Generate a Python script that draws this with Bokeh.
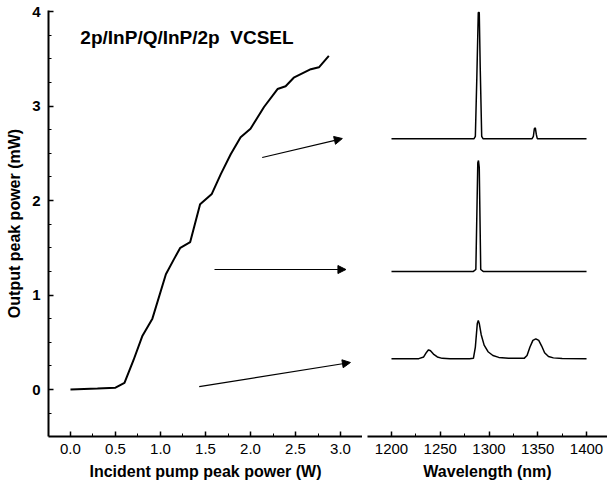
from bokeh.plotting import figure
from bokeh.models import (ColumnDataSource, Arrow, NormalHead, SingleIntervalTicker,
                          Range1d, Label, PrintfTickFormatter)
from bokeh.layouts import row
from bokeh.embed import file_html
from bokeh.resources import INLINE

# ---- L-I curve (incident pump peak power W vs output peak power mW)
pump_w = [0.0, 0.3, 0.5, 0.6, 0.70, 0.80, 0.91, 1.06, 1.15, 1.22, 1.33, 1.44, 1.57,
          1.67, 1.78, 1.89, 2.0, 2.15, 2.30, 2.39, 2.48, 2.67, 2.76, 2.87]
out_mw = [0.0, 0.01, 0.02, 0.07, 0.31, 0.57, 0.75, 1.22, 1.38, 1.50, 1.56, 1.96, 2.07,
          2.28, 2.49, 2.67, 2.76, 2.99, 3.18, 3.21, 3.30, 3.39, 3.41, 3.53]

# ---- spectra (wavelength nm, offset intensity on same vertical scale)
wl_top = [1200, 1284.5, 1286, 1287.5, 1289, 1290, 1291, 1292.5, 1294, 1344, 1345.5,
          1346.5, 1347.5, 1348.5, 1349.5, 1400]
sp_top = [2.653, 2.653, 2.68, 3.3, 3.99, 3.99, 3.4, 2.68, 2.653, 2.653, 2.68,
          2.76, 2.77, 2.70, 2.655, 2.653]

wl_mid = [1200, 1284, 1286.5, 1288.5, 1289.2, 1290, 1291.5, 1294, 1400]
sp_mid = [1.25, 1.25, 1.27, 2.40, 2.423, 2.35, 1.27, 1.25, 1.25]

wl_bot = [1200, 1228, 1233, 1236, 1238, 1240, 1243, 1247, 1252, 1260, 1280, 1284, 1286,
          1288, 1289, 1290, 1292, 1295, 1299, 1304, 1310, 1320, 1336, 1339, 1342, 1345,
          1348, 1351, 1354, 1357, 1361, 1366, 1375, 1400]
sp_bot = [0.325, 0.327, 0.345, 0.395, 0.42, 0.41, 0.375, 0.345, 0.33, 0.325, 0.325, 0.33,
          0.45, 0.70, 0.73, 0.70, 0.58, 0.47, 0.40, 0.36, 0.34, 0.33, 0.33, 0.36, 0.45,
          0.52, 0.537, 0.52, 0.46, 0.39, 0.35, 0.335, 0.328, 0.325]

# ---- arrows (from L-I curve region towards the spectra)
arrow_x0 = [2.13, 1.60, 1.43]
arrow_y0 = [2.455, 1.27, 0.03]
arrow_x1 = [3.02, 3.06, 3.11]
arrow_y1 = [2.656, 1.27, 0.286]

title_text = "2p/InP/Q/InP/2p\u00a0\u00a0VCSEL"

FONT = "Liberation Sans"
Y0, Y1 = -0.497, 4.011
H = 490
TOP, BOT = 10, 54


def style_axis(ax, bold_ticks=False):
    ax.axis_line_width = 2
    ax.axis_line_color = "black"
    ax.major_tick_in = 5
    ax.major_tick_out = 0
    ax.minor_tick_in = 3
    ax.minor_tick_out = 0
    ax.major_tick_line_width = 1.5
    ax.major_label_text_font = FONT
    ax.major_label_text_font_size = "15px"
    ax.major_label_text_color = "black"
    if bold_ticks:
        ax.major_label_text_font_style = "bold"
    ax.major_label_standoff = 7
    ax.axis_label_text_font = FONT
    ax.axis_label_text_font_size = "16px"
    ax.axis_label_text_font_style = "bold"
    ax.axis_label_text_color = "black"


p1 = figure(width=362, height=H, output_backend="svg", toolbar_location=None,
            x_range=Range1d(-0.244, 3.244), y_range=Range1d(Y0, Y1),
            min_border_left=48, min_border_right=0, min_border_top=TOP,
            min_border_bottom=BOT)
p1.outline_line_color = None
p1.grid.visible = False

p1.xaxis.ticker = SingleIntervalTicker(interval=0.5, num_minor_ticks=2)
p1.yaxis.ticker = SingleIntervalTicker(interval=1, num_minor_ticks=4)
p1.xaxis.axis_label = "Incident pump peak power (W)"
p1.yaxis.axis_label = "Output peak power (mW)"
style_axis(p1.xaxis[0])
style_axis(p1.yaxis[0], bold_ticks=True)
p1.yaxis.major_label_standoff = 8
p1.xaxis.axis_label_standoff = 6
p1.yaxis.axis_label_standoff = 6
p1.xaxis.formatter = PrintfTickFormatter(format="%.1f")

p1.line(pump_w, out_mw, line_color="black", line_width=2)

asrc = ColumnDataSource(dict(x0=arrow_x0, y0=arrow_y0, x1=arrow_x1, y1=arrow_y1))
p1.add_layout(Arrow(x_start="x0", y_start="y0", x_end="x1", y_end="y1", source=asrc,
                    line_color="black", line_width=1.2,
                    end=NormalHead(size=8, fill_color="black", line_color="black",
                                   line_width=1)))

p1.add_layout(Label(x=0.11, y=3.725, text=title_text, text_font=FONT,
                    text_font_size="19px", text_font_style="bold", text_color="black",
                    text_baseline="alphabetic"))

p2 = figure(width=245, height=H, output_backend="svg", toolbar_location=None,
            x_range=Range1d(1175.4, 1421.5), y_range=Range1d(Y0, Y1),
            y_axis_location=None,
            min_border_left=5, min_border_right=0, min_border_top=TOP,
            min_border_bottom=BOT)
p2.outline_line_color = None
p2.grid.visible = False
p2.xaxis.ticker = SingleIntervalTicker(interval=50, num_minor_ticks=2)
p2.xaxis.axis_label = "Wavelength (nm)"
style_axis(p2.xaxis[0])
p2.xaxis.axis_label_standoff = 6

p2.line(wl_top, sp_top, line_color="black", line_width=1.5)
p2.line(wl_mid, sp_mid, line_color="black", line_width=1.5)
p2.line(wl_bot, sp_bot, line_color="black", line_width=1.5)

layout = row(p1, p2, spacing=0)
open("out.html", "w").write(file_html(layout, INLINE))
